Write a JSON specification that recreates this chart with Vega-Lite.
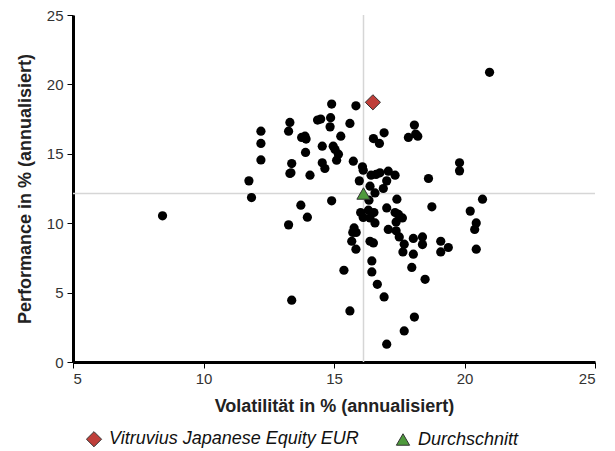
{
  "$schema": "https://vega.github.io/schema/vega-lite/v6.json",
  "width": 522,
  "height": 347,
  "autosize": {"type": "none"},
  "padding": {"left": 73, "top": 15, "right": 20, "bottom": 89},
  "background": "white",
  "config": {
    "view": {"stroke": null},
    "font": "Liberation Sans",
    "axis": {
      "grid": false,
      "domainColor": "black",
      "domainWidth": 3,
      "tickColor": "black",
      "tickSize": 6,
      "tickWidth": 1,
      "labelFont": "Liberation Sans",
      "labelFontSize": 15,
      "labelColor": "#333333",
      "titleFont": "Liberation Sans",
      "titleFontSize": 18,
      "titleFontWeight": "bold",
      "titleColor": "#222222"
    }
  },
  "datasets": {
    "funds": [
      {"vol": 14.91, "perf": 18.58}, {"vol": 14.37, "perf": 17.43}, {"vol": 14.49, "perf": 17.5},
      {"vol": 13.31, "perf": 17.26}, {"vol": 14.87, "perf": 17.6}, {"vol": 14.85, "perf": 16.94},
      {"vol": 12.2, "perf": 16.63}, {"vol": 13.26, "perf": 16.63}, {"vol": 13.76, "perf": 16.18},
      {"vol": 13.89, "perf": 16.27}, {"vol": 13.93, "perf": 16.06}, {"vol": 15.26, "perf": 16.27},
      {"vol": 12.2, "perf": 15.75}, {"vol": 13.91, "perf": 15.1}, {"vol": 14.55, "perf": 15.55},
      {"vol": 14.97, "perf": 15.55}, {"vol": 15.04, "perf": 15.31}, {"vol": 12.2, "perf": 14.56},
      {"vol": 13.38, "perf": 14.3}, {"vol": 13.35, "perf": 13.63}, {"vol": 13.31, "perf": 13.58},
      {"vol": 14.55, "perf": 14.35}, {"vol": 14.65, "perf": 13.94}, {"vol": 14.08, "perf": 13.46},
      {"vol": 15.1, "perf": 14.54}, {"vol": 11.74, "perf": 13.05}, {"vol": 11.84, "perf": 11.85},
      {"vol": 8.43, "perf": 10.53}, {"vol": 13.73, "perf": 11.3}, {"vol": 13.98, "perf": 10.43},
      {"vol": 13.26, "perf": 9.88}, {"vol": 14.91, "perf": 11.61}, {"vol": 13.38, "perf": 4.45},
      {"vol": 20.96, "perf": 20.87}, {"vol": 15.84, "perf": 18.46}, {"vol": 15.61, "perf": 17.19},
      {"vol": 15.17, "perf": 14.97}, {"vol": 15.74, "perf": 14.47}, {"vol": 16.09, "perf": 14.06},
      {"vol": 16.12, "perf": 13.82}, {"vol": 16.51, "perf": 16.1}, {"vol": 16.74, "perf": 15.75},
      {"vol": 16.92, "perf": 16.51}, {"vol": 18.08, "perf": 17.07}, {"vol": 17.85, "perf": 16.18},
      {"vol": 18.13, "perf": 16.42}, {"vol": 18.21, "perf": 16.27}, {"vol": 19.81, "perf": 14.35},
      {"vol": 19.81, "perf": 13.77}, {"vol": 18.62, "perf": 13.22}, {"vol": 16.42, "perf": 13.46},
      {"vol": 16.61, "perf": 13.51}, {"vol": 16.76, "perf": 13.63}, {"vol": 17.08, "perf": 13.75},
      {"vol": 17.34, "perf": 13.46}, {"vol": 15.97, "perf": 13.05}, {"vol": 16.38, "perf": 12.67},
      {"vol": 16.89, "perf": 12.5}, {"vol": 17.02, "perf": 13.05}, {"vol": 16.57, "perf": 12.18},
      {"vol": 16.34, "perf": 11.66}, {"vol": 17.41, "perf": 11.73}, {"vol": 18.75, "perf": 11.18},
      {"vol": 20.69, "perf": 11.73}, {"vol": 20.22, "perf": 10.87}, {"vol": 20.45, "perf": 10.02},
      {"vol": 20.39, "perf": 9.55}, {"vol": 17.02, "perf": 11.1}, {"vol": 16.02, "perf": 10.77},
      {"vol": 16.32, "perf": 10.94}, {"vol": 16.53, "perf": 10.77}, {"vol": 16.12, "perf": 10.41},
      {"vol": 16.38, "perf": 10.38}, {"vol": 16.57, "perf": 10.02}, {"vol": 17.34, "perf": 10.77},
      {"vol": 17.47, "perf": 10.63}, {"vol": 17.62, "perf": 10.38}, {"vol": 17.38, "perf": 10.09},
      {"vol": 15.77, "perf": 9.66}, {"vol": 15.85, "perf": 9.33}, {"vol": 15.72, "perf": 9.33},
      {"vol": 15.68, "perf": 8.7}, {"vol": 15.84, "perf": 8.13}, {"vol": 16.38, "perf": 8.7},
      {"vol": 16.51, "perf": 8.58}, {"vol": 17.08, "perf": 9.55}, {"vol": 17.38, "perf": 9.45},
      {"vol": 17.5, "perf": 9.01}, {"vol": 17.69, "perf": 8.49}, {"vol": 17.64, "perf": 7.93},
      {"vol": 18.04, "perf": 8.9}, {"vol": 18.04, "perf": 7.77}, {"vol": 18.39, "perf": 9.01},
      {"vol": 18.39, "perf": 8.46}, {"vol": 19.09, "perf": 8.7}, {"vol": 19.09, "perf": 7.93},
      {"vol": 19.38, "perf": 8.25}, {"vol": 20.45, "perf": 8.13}, {"vol": 16.45, "perf": 7.28},
      {"vol": 16.45, "perf": 6.49}, {"vol": 15.38, "perf": 6.61}, {"vol": 17.98, "perf": 6.81},
      {"vol": 18.49, "perf": 5.96}, {"vol": 16.66, "perf": 5.6}, {"vol": 16.92, "perf": 4.69},
      {"vol": 15.61, "perf": 3.68}, {"vol": 18.08, "perf": 3.24}, {"vol": 17.69, "perf": 2.24},
      {"vol": 17.02, "perf": 1.28}
    ],
    "highlight": [
      {"name": "Vitruvius Japanese Equity EUR", "vol": 16.49, "perf": 18.71},
      {"name": "Durchschnitt", "vol": 16.13, "perf": 12.14}
    ],
    "meanx": [{"vol": 16.13}],
    "meany": [{"perf": 12.14}]
  },
  "layer": [
    {
      "data": {"name": "meanx"},
      "mark": {"type": "rule", "color": "#d6d6d6", "strokeWidth": 1.5},
      "encoding": {
        "x": {"field": "vol", "type": "quantitative", "scale": {"domain": [5, 25], "nice": false, "zero": false}}
      }
    },
    {
      "data": {"name": "meany"},
      "mark": {"type": "rule", "color": "#d6d6d6", "strokeWidth": 1.5},
      "encoding": {
        "y": {"field": "perf", "type": "quantitative", "scale": {"domain": [0, 25], "nice": false}}
      }
    },
    {
      "data": {"name": "funds"},
      "mark": {"type": "point", "filled": true, "shape": "circle", "color": "black", "size": 85, "opacity": 1},
      "encoding": {
        "x": {
          "field": "vol", "type": "quantitative",
          "scale": {"domain": [5, 25], "nice": false, "zero": false},
          "axis": {"values": [5, 10, 15, 20, 25], "title": "Volatilität in % (annualisiert)", "labelPadding": 3, "titlePadding": 11}
        },
        "y": {
          "field": "perf", "type": "quantitative",
          "scale": {"domain": [0, 25], "nice": false},
          "axis": {"values": [0, 5, 10, 15, 20, 25], "title": "Performance in % (annualisiert)", "labelPadding": 4, "titlePadding": 12}
        }
      }
    },
    {
      "data": {"name": "highlight"},
      "mark": {"type": "point", "filled": true, "stroke": "#333333", "strokeWidth": 1, "opacity": 1},
      "encoding": {
        "x": {"field": "vol", "type": "quantitative"},
        "y": {"field": "perf", "type": "quantitative"},
        "size": {
          "field": "name", "type": "ordinal",
          "scale": {"domain": ["Vitruvius Japanese Equity EUR", "Durchschnitt"], "range": [230, 175]},
          "legend": null
        },
        "shape": {
          "field": "name", "type": "nominal",
          "scale": {"domain": ["Vitruvius Japanese Equity EUR", "Durchschnitt"], "range": ["diamond", "triangle-up"]},
          "legend": null
        },
        "color": {
          "field": "name", "type": "nominal",
          "scale": {"domain": ["Vitruvius Japanese Equity EUR", "Durchschnitt"], "range": ["#bf3f3a", "#4e9a3c"]},
          "legend": {
            "title": null,
            "orient": "none",
            "direction": "horizontal",
            "legendX": 12,
            "legendY": 415,
            "labelFont": "Liberation Sans",
            "labelFontSize": 18,
            "labelFontStyle": "italic",
            "labelColor": "#111111",
            "symbolSize": 300,
            "symbolStrokeColor": "#333333",
            "symbolStrokeWidth": 1,
            "columnPadding": 35,
            "labelOffset": 6,
            "labelLimit": 400
          }
        }
      }
    }
  ]
}
